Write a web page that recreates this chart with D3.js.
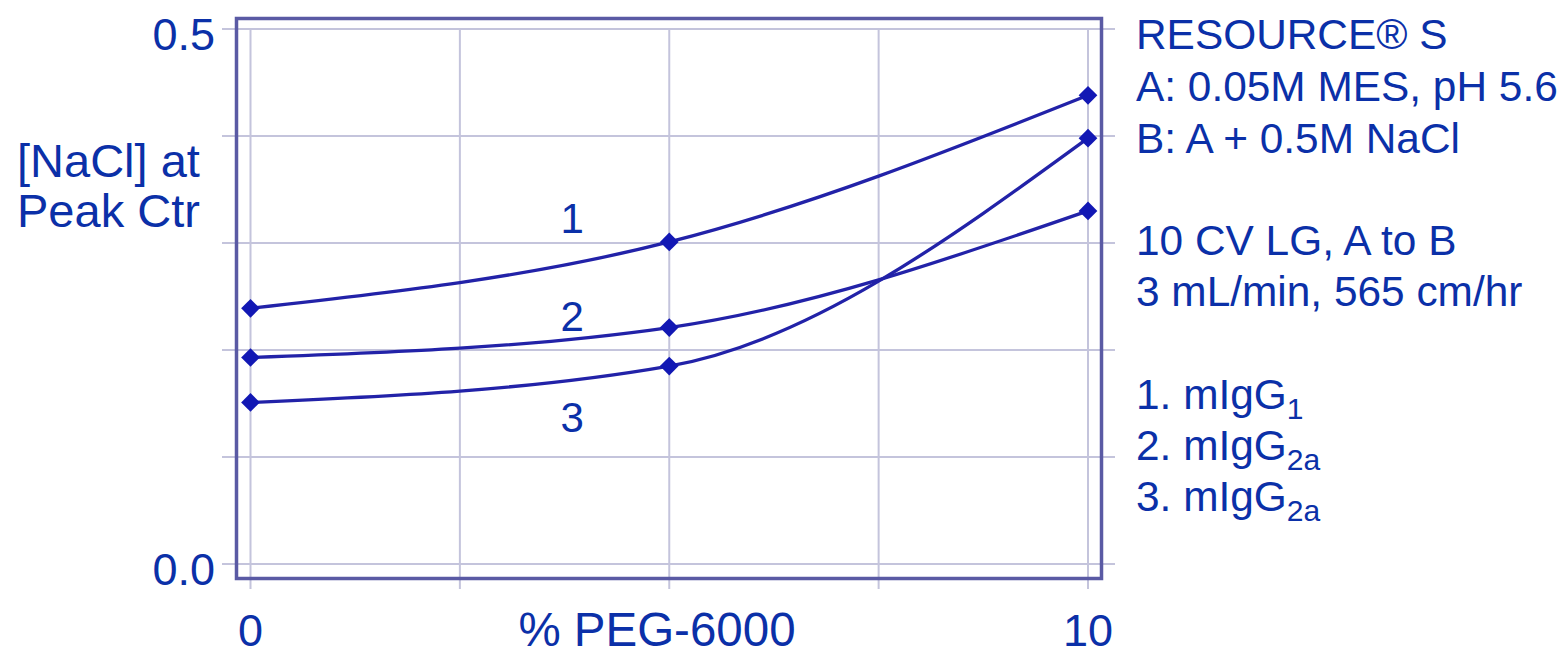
<!DOCTYPE html>
<html>
<head>
<meta charset="utf-8">
<script src="https://cdn.jsdelivr.net/npm/d3@7"></script>
<style>
  html, body { margin: 0; padding: 0; background: #ffffff; }
  svg { display: block; }
  text { font-family: "Liberation Sans", Arial, sans-serif; fill: #0b30a8; }
</style>
</head>
<body>
<svg id="chart" width="1567" height="655"></svg>
<script>
// ---- data ----
const xValues = [0, 5, 10];
const series1 = [0.239, 0.301, 0.438];
const series2 = [0.193, 0.221, 0.330];
const series3 = [0.151, 0.185, 0.398];
const seriesNames = ["1", "2", "3"];
const seriesLabelX = [3.84, 3.84, 3.84];
const seriesLabelY = [0.309, 0.218, 0.123];
const xGridValues = [0, 2.5, 5, 7.5, 10];
const yGridValues = [0, 0.1, 0.2, 0.3, 0.4, 0.5];
const yTickValues = [0, 0.5];
const yTickLabels = ["0.0", "0.5"];
const xTickValues = [0, 10];
const xTickLabels = ["0", "10"];
const xTitle = "% PEG-6000";
const yTitle = ["[NaCl] at", "Peak Ctr"];
const infoLines1 = ["RESOURCE® S", "A: 0.05M MES, pH 5.6", "B: A + 0.5M NaCl"];
const infoLines2 = ["10 CV LG, A to B", "3 mL/min, 565 cm/hr"];
const legendItems = [["1. mIgG", "1"], ["2. mIgG", "2a"], ["3. mIgG", "2a"]];

// ---- layout ----
const svg = d3.select("#chart");
const x = d3.scaleLinear().domain([0, 10]).range([250.5, 1088]);
const y = d3.scaleLinear().domain([0, 0.5]).range([564, 29]);

const gridColor = "#c4c4dc";
const frameColor = "#5a5aa4";
const lineColor = "#2222a8";
const markerColor = "#1218b4";

// gridlines
svg.append("g").selectAll("line.h").data(yGridValues).join("line")
  .attr("x1", 222).attr("x2", 1115)
  .attr("y1", d => y(d)).attr("y2", d => y(d))
  .attr("stroke", gridColor).attr("stroke-width", 2);
svg.append("g").selectAll("line.v").data(xGridValues).join("line")
  .attr("x1", d => x(d)).attr("x2", d => x(d))
  .attr("y1", y(0.5)).attr("y2", 589)
  .attr("stroke", gridColor).attr("stroke-width", 2);

// frame
svg.append("rect")
  .attr("x", 236.5).attr("y", 18.5).attr("width", 865).attr("height", 560)
  .attr("fill", "none").attr("stroke", frameColor).attr("stroke-width", 3.5);

// lines
const allSeries = [series1, series2, series3];
const line = d3.line()
  .x((d, i) => x(xValues[i]))
  .y(d => y(d))
  .curve(d3.curveMonotoneX);

svg.append("g").selectAll("path").data(allSeries).join("path")
  .attr("d", d => line(d))
  .attr("fill", "none")
  .attr("stroke", lineColor)
  .attr("stroke-width", 3.3);

// markers (rotated squares = diamonds)
const diamond = d3.symbol().type(d3.symbolSquare).size(175);
allSeries.forEach(s => {
  svg.append("g").selectAll("path").data(s).join("path")
    .attr("d", diamond)
    .attr("transform", (d, i) => `translate(${x(xValues[i])},${y(d)}) rotate(45)`)
    .attr("fill", markerColor);
});

// series labels
svg.append("g").selectAll("text").data(seriesNames).join("text")
  .attr("x", (d, i) => x(seriesLabelX[i]))
  .attr("y", (d, i) => y(seriesLabelY[i]))
  .attr("text-anchor", "middle")
  .attr("font-size", 42)
  .text(d => d);

// y tick labels
svg.append("g").selectAll("text").data(yTickValues).join("text")
  .attr("x", 215)
  .attr("y", d => y(d) + 21)
  .attr("text-anchor", "end")
  .attr("font-size", 45)
  .text((d, i) => yTickLabels[i]);

// x tick labels
svg.append("g").selectAll("text").data(xTickValues).join("text")
  .attr("x", d => x(d))
  .attr("y", 646)
  .attr("text-anchor", "middle")
  .attr("font-size", 45)
  .text((d, i) => xTickLabels[i]);

// x title
svg.append("text")
  .attr("x", 657).attr("y", 646)
  .attr("text-anchor", "middle")
  .attr("font-size", 47.5)
  .text(xTitle);

// y title
svg.append("g").selectAll("text").data(yTitle).join("text")
  .attr("x", 17)
  .attr("y", (d, i) => 177 + i * 50)
  .attr("font-size", 47)
  .text(d => d);

// info text
svg.append("g").selectAll("text").data(infoLines1).join("text")
  .attr("x", 1136).attr("y", (d, i) => 49 + i * 52)
  .attr("font-size", 42.4).text(d => d);
svg.append("g").selectAll("text").data(infoLines2).join("text")
  .attr("x", 1136).attr("y", (d, i) => 255 + i * 51)
  .attr("font-size", 42.4).text(d => d);

const leg = svg.append("g").selectAll("text").data(legendItems).join("text")
  .attr("x", 1136).attr("y", (d, i) => 409 + i * 51)
  .attr("font-size", 42.4);
leg.append("tspan").text(d => d[0]);
leg.append("tspan").attr("font-size", 30).attr("dy", 10).text(d => d[1]);
</script>
</body>
</html>
